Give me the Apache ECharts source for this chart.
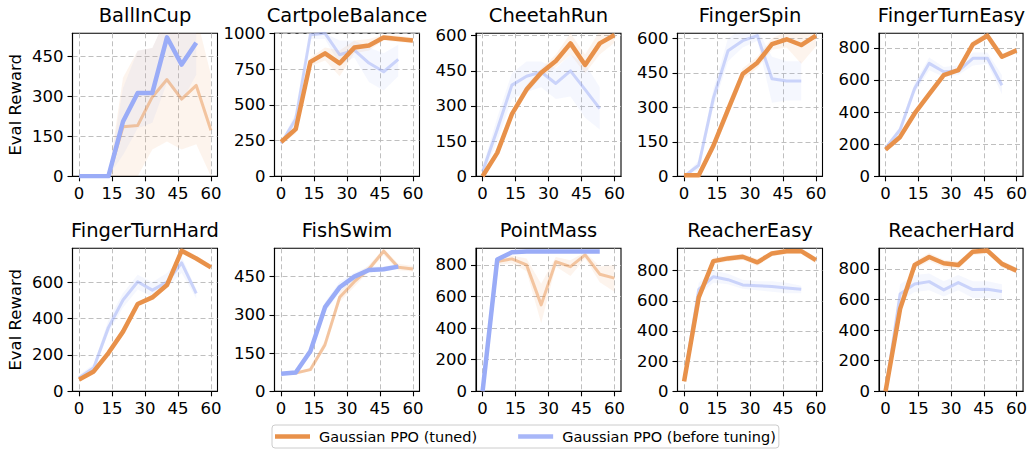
<!DOCTYPE html>
<html><head><meta charset="utf-8">
<script src="https://cdn.jsdelivr.net/npm/echarts@6/dist/echarts.min.js"></script>
<style>html,body{margin:0;padding:0;background:#fff}#c{width:1030px;height:449px}</style>
</head><body><div id="c"></div>
<script>
const titles = ['BallInCup','CartpoleBalance','CheetahRun','FingerSpin','FingerTurnEasy','FingerTurnHard','FishSwim','PointMass','ReacherEasy','ReacherHard'];
const seriesNames = ['Gaussian PPO (tuned)','Gaussian PPO (before tuning)'];
const yLabel = 'Eval Reward';
const xTuned = [0,6.67,13.33,20,26.67,33.33,40,46.67,53.33,60];
const xBefore = [0,6.67,13.33,20,26.67,33.33,40,46.67,53.33];
const xTicks = [0,15,30,45,60];
const xRange = [-3,63];
const yTicks = [[0,150,300,450],[0,250,500,750,1000],[0,150,300,450,600],[0,150,300,450,600],[0,200,400,600,800],
                [0,200,400,600],[0,150,300,450],[0,200,400,600,800],[0,200,400,600,800],[0,200,400,600,800]];
const yMax = [535,1000,610,622,890,786,561,905,948,935];

const tunedMean = [
 [0,0,0,185,190,297,362,289,340,172],
 [240,330,800,860,790,900,915,970,960,950],
 [0,100,265,370,442,492,567,475,567,603],
 [5,5,133,290,445,494,575,596,571,612],
 [166,245,391,511,630,661,821,875,744,784],
 [64,109,210,328,480,516,584,772,730,681],
 [70,72,85,183,369,430,480,550,487,480],
 [0,821,838,800,547,820,789,863,741,716],
 [66,623,863,881,892,855,914,928,929,870],
 [0,539,826,878,837,826,913,920,833,789]];
const tunedLo = [
 [0,0,0,0,0,100,130,100,120,0],
 [220,300,770,810,700,860,880,950,940,930],
 [0,90,250,350,425,465,520,440,520,570],
 [0,0,110,260,420,470,550,560,490,565],
 [150,230,380,500,620,650,800,860,730,770],
 [55,100,200,318,470,505,572,760,720,668],
 [65,68,80,170,350,410,470,535,475,470],
 [0,800,810,760,430,790,730,840,690,630],
 [60,590,840,860,870,830,895,910,910,845],
 [0,500,800,850,810,800,890,900,810,770]];
const tunedHi = [
 [0,0,0,370,470,480,600,600,600,380],
 [260,360,830,900,880,950,960,990,985,970],
 [0,110,280,390,460,520,610,520,620,640],
 [10,10,155,320,470,520,600,630,650,660],
 [180,260,405,525,645,675,845,895,760,800],
 [75,120,222,340,492,530,598,790,745,695],
 [75,76,92,200,390,450,495,560,500,492],
 [0,840,860,840,680,850,830,880,790,800],
 [75,655,885,900,912,878,932,946,948,890],
 [0,580,850,905,860,850,935,940,855,810]];
const beforeMean = [
 [0,0,0,205,312,312,520,418,500],
 [230,400,990,1000,850,882,792,731,818],
 [20,200,389,427,445,396,450,370,289],
 [0,48,340,546,590,612,424,415,415],
 [175,290,547,703,651,655,734,735,567],
 [75,130,350,502,602,556,600,706,538],
 [69,74,157,330,408,450,476,479,489],
 [0,834,880,885,885,885,885,885,885],
 [70,676,760,740,705,700,695,685,676],
 [0,637,702,717,663,711,665,667,652]];
const beforeLo = [
 [0,0,0,80,180,200,350,280,380],
 [215,360,960,960,780,830,660,600,700],
 [0,150,330,360,380,330,340,250,200],
 [0,30,300,500,560,590,320,330,330],
 [160,270,520,660,620,630,690,700,510],
 [60,110,320,460,560,520,570,650,510],
 [65,70,145,310,390,435,465,470,480],
 [0,826,874,880,880,880,880,880,880],
 [60,640,720,710,680,670,660,650,650],
 [0,590,650,660,620,660,610,610,600]];
const beforeHi = [
 [0,0,0,330,470,480,600,560,600],
 [245,440,1000,1000,950,950,900,860,920],
 [40,250,440,490,490,460,520,480,380],
 [0,70,380,600,640,640,520,500,500],
 [190,310,580,740,680,690,770,770,630],
 [90,150,390,540,640,600,650,740,560],
 [75,80,175,350,430,465,490,490,500],
 [0,842,886,890,890,890,890,890,890],
 [80,720,800,780,740,730,730,720,700],
 [0,700,760,770,720,760,720,720,700]];

// style: which method is drawn opaque in each panel
const tunedOnTop = [false,true,true,true,true,true,false,false,true,true];
const ORANGE = '#E8914A', BLUE = '#9AACF7';
const FONT = 'DejaVu Sans';
const colLeft = [72.5, 274.5, 476, 677.5, 879];
const rowTop = [33.3, 248.3];
const GW = 145, GH = 143;

function bandSeries(i, xs, lo, hi, color) {
  return {
    type: 'custom', xAxisIndex: i, yAxisIndex: i, silent: true, clip: true, z: 1,
    data: xs.map((x, k) => [x, lo[k], hi[k]]),
    renderItem: function (params, api) {
      if (params.dataIndex !== 0) return null;
      const upper = xs.map((x, k) => api.coord([x, hi[k]]));
      const lower = xs.map((x, k) => api.coord([x, lo[k]])).reverse();
      return {type: 'polygon', shape: {points: upper.concat(lower)},
        style: {fill: color, opacity: 0.1, stroke: null}};
    }
  };
}

const grids = [], xAxes = [], yAxes = [], titleArr = [], series = [];
for (let i = 0; i < 10; i++) {
  const c = i % 5, r = Math.floor(i / 5);
  grids.push({left: colLeft[c], top: rowTop[r], width: GW, height: GH, show: true,
    borderColor: '#000', borderWidth: 1.1, backgroundColor: 'transparent', containLabel: false});
  titleArr.push({text: titles[i], left: colLeft[c] + GW / 2, top: rowTop[r] - 28, textAlign: 'center',
    padding: 0, textStyle: {fontFamily: FONT, fontSize: 19.5, fontWeight: 'normal', color: '#000'}});
  const tickStyle = {show: true, inside: false, length: 5, lineStyle: {color: '#000', width: 1.1}};
  const split = {show: true, lineStyle: {color: '#b8b8b8', width: 0.9, type: [5, 3]}};
  xAxes.push({type: 'value', gridIndex: i, min: xRange[0], max: xRange[1],
    axisLine: {show: true, onZero: false, lineStyle: {color: '#000', width: 1.1}},
    axisTick: Object.assign({customValues: xTicks}, tickStyle),
    axisLabel: {customValues: xTicks, margin: 9, fontFamily: FONT, fontSize: 16.5, color: '#000',
      formatter: v => String(v)},
    splitLine: split});
  const ya = {type: 'value', gridIndex: i, min: 0, max: yMax[i],
    axisLine: {show: true, onZero: false, lineStyle: {color: '#000', width: 1.1}},
    axisTick: Object.assign({customValues: yTicks[i]}, tickStyle),
    axisLabel: {customValues: yTicks[i], margin: 9, fontFamily: FONT, fontSize: 16.5, color: '#000',
      formatter: v => String(v)},
    splitLine: split};
  if (c === 0) {
    Object.assign(ya, {name: yLabel, nameLocation: 'middle', nameRotate: 90, nameGap: 49,
      nameTextStyle: {fontFamily: FONT, fontSize: 16.5, color: '#000'}});
  }
  yAxes.push(ya);

  const groups = [
    {name: seriesNames[0], xs: xTuned, m: tunedMean[i], lo: tunedLo[i], hi: tunedHi[i], color: ORANGE, top: tunedOnTop[i]},
    {name: seriesNames[1], xs: xBefore, m: beforeMean[i], lo: beforeLo[i], hi: beforeHi[i], color: BLUE, top: !tunedOnTop[i]}
  ];
  groups.forEach(g => series.push(bandSeries(i, g.xs, g.lo, g.hi, g.color)));
  groups.forEach(g => {
    series.push({type: 'line', name: g.name, xAxisIndex: i, yAxisIndex: i, symbol: 'none', silent: true,
      data: g.xs.map((x, k) => [x, g.m[k]]), color: g.color,
      lineStyle: {color: g.color, width: g.top ? 4.5 : 3, opacity: g.top ? 1 : 0.48, join: 'round', cap: 'butt'},
      z: g.top ? 4 : 3});
  });
}

const option = {
  animation: false,
  backgroundColor: '#fff',
  title: titleArr,
  grid: grids,
  xAxis: xAxes,
  yAxis: yAxes,
  legend: {
    left: 272, top: 425, orient: 'horizontal',
    data: [{name: seriesNames[0], itemStyle: {color: ORANGE, opacity: 1}},
           {name: seriesNames[1], itemStyle: {color: '#A8B7F8', opacity: 1}}],
    icon: 'rect', itemWidth: 35, itemHeight: 4.5, itemGap: 41,
    textStyle: {fontFamily: FONT, fontSize: 14.5, color: '#000', padding: [0, 0, 0, 4]},
    borderColor: '#cccccc', borderWidth: 1, borderRadius: 3, padding: [4, 3, 4, 3],
    backgroundColor: '#fff', selectedMode: false
  },
  series: series
};
const chart = echarts.init(document.getElementById('c'), null, {renderer: 'svg'});
chart.setOption(option);
</script></body></html>
